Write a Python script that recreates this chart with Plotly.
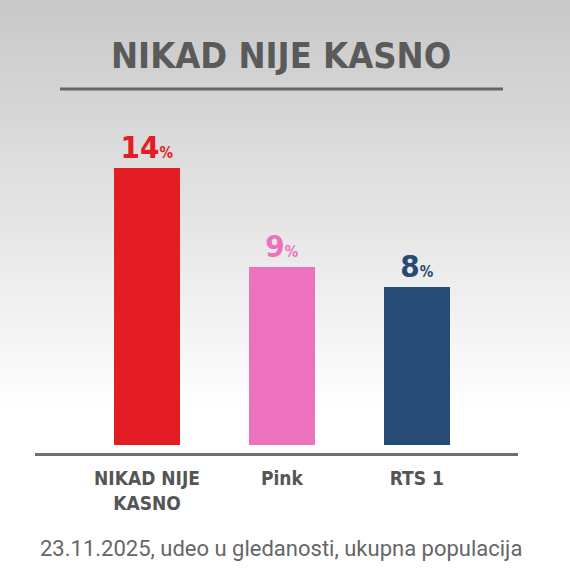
import plotly.graph_objects as go

channels = ["NIKAD NIJE<br>KASNO", "Pink", "RTS 1"]
shares = [14, 9, 8]
bar_colors = ["#e41c23", "#ec72bd", "#274b74"]
title = "NIKAD NIJE KASNO"
footer = "23.11.2025, udeo u gledanosti, ukupna populacija"

narrow = "Liberation Sans Narrow, DejaVu Sans Condensed, Arial Narrow, sans-serif"

labels = [f"<b>{v}<span style='font-size:15px'>%</span></b>" for v in shares]

PLOT_H = 353
BOTTOM = 453


def py(px):
    # figure pixel row -> paper y
    return (BOTTOM - px) / PLOT_H


fig = go.Figure()
fig.add_trace(go.Bar(
    x=list(range(len(channels))), y=shares,
    marker=dict(color=bar_colors, line=dict(width=0)),
    width=0.49,
    text=labels, textposition="outside", cliponaxis=False,
    textfont=dict(family=narrow, size=31, color=bar_colors),
    hoverinfo="skip",
))

# grey-to-white background gradient, stacked so there are no seams
shapes = []
n = 80
grad_end = 410
for i in range(n):
    top_px = grad_end * i / n
    c = round(200 + 55 * i / n)
    shapes.append(dict(type="rect", xref="paper", yref="paper",
                       x0=-0.2, x1=1.2, y0=py(570), y1=py(top_px),
                       fillcolor=f"rgb({c},{c},{c})", line=dict(width=0), layer="below"))
shapes.append(dict(type="rect", xref="paper", yref="paper",
                   x0=-0.2, x1=1.2, y0=py(570), y1=py(grad_end),
                   fillcolor="#ffffff", line=dict(width=0), layer="below"))
# title underline
shapes.append(dict(type="line", xref="paper", yref="paper",
                   x0=(60 - 35) / 483, x1=(503 - 35) / 483, y0=py(89), y1=py(89),
                   line=dict(color="#666666", width=3)))

fig.update_layout(
    width=570, height=570,
    margin=dict(l=35, r=52, t=100, b=117, autoexpand=False),
    paper_bgcolor="#ffffff", plot_bgcolor="rgba(0,0,0,0)",
    showlegend=False, bargap=0,
    shapes=shapes,
    xaxis=dict(range=[-0.83, 2.75], tickmode="array", tickvals=list(range(len(channels))),
               ticktext=[f"<b>{c}</b>" for c in channels],
               tickfont=dict(family=narrow, size=19, color="#555555"),
               showline=True, linecolor="#707070", linewidth=3,
               ticks="outside", ticklen=6, tickcolor="rgba(0,0,0,0)",
               showgrid=False, zeroline=False, fixedrange=True, automargin=False),
    yaxis=dict(range=[-0.4, 17.43], visible=False, showgrid=False, zeroline=False,
               automargin=False),
    annotations=[
        dict(text=f"<b>{title}</b>", xref="paper", yref="paper", x=(281 - 35) / 483,
             y=py(55), xanchor="center", yanchor="middle", showarrow=False,
             font=dict(family=narrow, size=36, color="#5a5a5a")),
        dict(text=footer, xref="paper", yref="paper", x=(281 - 35) / 483,
             y=py(548), xanchor="center", yanchor="middle", showarrow=False,
             font=dict(family="Roboto, sans-serif", size=22, color="#666666")),
    ],
)

# the page's default body margin would push the figure 8px down and right
fig.write_html("out.html", config={"displayModeBar": False},
               post_script="document.body.style.margin='0px';")
